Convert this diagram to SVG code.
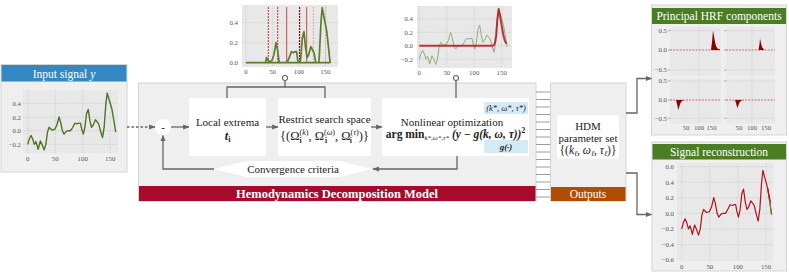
<svg xmlns="http://www.w3.org/2000/svg" width="789" height="272" viewBox="0 0 789 272">
<style>
text{font-family:"Liberation Serif","Noto Serif","DejaVu Serif","Times New Roman",serif;}
.panel{fill:#efefef;stroke:#d4d4d4;stroke-width:1}
.box{fill:#ffffff}
.ax{fill:#e8e8e8}
.grid{stroke:#c2c2c2;stroke-width:0.6;stroke-dasharray:1.5 1.2;fill:none}
.tkr{font-size:6.8px;fill:#555;text-anchor:end}
.tkm{font-size:6.8px;fill:#555;text-anchor:middle}
.con{stroke:#666;stroke-width:1.3;fill:none}
.title{fill:#ffffff;font-size:11.5px;text-anchor:middle}
.lbl{font-size:11px;fill:#222;text-anchor:middle}
.sig{fill:none;stroke:#4f7426;stroke-width:1.4;stroke-linejoin:round}
.sig1{fill:none;stroke:#5b7d2e;stroke-width:1.7;stroke-linejoin:round}
.sig2{fill:none;stroke:#8da465;stroke-width:0.9;stroke-linejoin:round}
.fit{fill:none;stroke:#b3161e;stroke-width:2;stroke-linejoin:round;stroke-opacity:0.85}
.rec{fill:none;stroke:#b3121b;stroke-width:1.2;stroke-linejoin:round}
.hatch{stroke:#9c9c9c;stroke-width:1}
.hrf{fill:#8b0000}
.zero{stroke:#c0392b;stroke-width:0.7;stroke-dasharray:2 1.2}
.tick{stroke:#777;stroke-width:0.6}
.lb{fill:#d4eaf5}
</style>
<defs>
<marker id="ah" viewBox="0 0 10 10" refX="9" refY="5" markerWidth="6.5" markerHeight="6.5" orient="auto" markerUnits="userSpaceOnUse"><path d="M0,1 L10,5 L0,9 z" fill="#666"/></marker>
<path id="sig" vector-effect="non-scaling-stroke" d="M0,20 L3,12 L6,7 L9,12 L12,20 L15,16 L19,27 L23,15 L26,20 L30,28 L33,20 L36,2 L39,-5 L44,-1 L49,-2 L53,-8 L57,-20 L60,-12 L63,0 L66,5 L70,1 L74,0 L78,0 L82,-5 L86,-11 L90,-10 L93,-11 L96,-11 L98,-3 L101,5 L104,-5 L107,-25 L110,-31 L113,-15 L116,-5 L119,-8 L123,-16 L126,-13 L129,-10 L133,2 L136,10 L139,-5 L142,-38 L144.5,-55 L147,-48 L150,-40 L153,-32 L156,-18 L160,2"/>
<clipPath id="pos"><rect x="-10" y="-100" width="200" height="100"/></clipPath>
</defs>

<!-- input signal -->
<g id="input-signal">
<rect class="panel" x="1" y="64.5" width="126" height="107.5"/>
<rect x="1.5" y="65" width="125" height="16.5" fill="#3388c2"/>
<text class="title" x="64" y="77.5">Input signal <tspan font-style="italic">y</tspan></text>
<rect class="ax" x="23" y="90" width="95" height="63"/>
<g class="grid"><line x1="23" y1="103.3" x2="118" y2="103.3"/><line x1="23" y1="117.3" x2="118" y2="117.3"/><line x1="23" y1="130.7" x2="118" y2="130.7"/><line x1="23" y1="144.3" x2="118" y2="144.3"/><line x1="27.7" y1="90" x2="27.7" y2="153"/><line x1="55.2" y1="90" x2="55.2" y2="153"/><line x1="82.7" y1="90" x2="82.7" y2="153"/><line x1="110.2" y1="90" x2="110.2" y2="153"/></g>
<text class="tkr" x="21" y="105.5">0.4</text><text class="tkr" x="21" y="119.5">0.2</text><text class="tkr" x="21" y="133">0.0</text><text class="tkr" x="21" y="146.5">−0.2</text>
<text class="tkm" x="27.7" y="161">0</text><text class="tkm" x="55.2" y="161">50</text><text class="tkm" x="82.7" y="161">100</text><text class="tkm" x="110.2" y="161">150</text>
<use href="#sig" class="sig" transform="translate(27.7,130.7) scale(0.55,0.685)"/>
</g>

<!-- main HDM panel -->
<g id="hdm-panel">
<rect class="panel" x="138.5" y="83" width="397.5" height="118"/>
<rect x="139" y="186" width="396.5" height="15" fill="#a60b2b"/>
<text x="337" y="197.8" fill="#fff" font-size="12.5" font-weight="bold" text-anchor="middle">Hemodynamics Decomposition Model</text>
</g>

<g id="minus">
<circle cx="163" cy="127" r="8" fill="#fff"/>
<text x="163" y="130.5" text-anchor="middle" font-size="11" font-weight="bold" fill="#333">-</text>
</g>

<g id="local-extrema">
<rect class="box" x="189" y="98" width="77" height="58"/>
<text class="lbl" x="227.5" y="126">Local extrema</text>
<text x="227.5" y="140" font-size="12.5" text-anchor="middle" fill="#222"><tspan font-weight="bold" font-style="italic">t</tspan><tspan font-size="8" font-weight="bold" dy="2">i</tspan></text>
</g>

<g id="restrict-search">
<rect class="box" x="278" y="98" width="93" height="58"/>
<text class="lbl" x="324.5" y="123">Restrict search space</text>
<text x="324.5" y="139.5" font-size="12.5" text-anchor="middle" fill="#222">{(Ω<tspan font-size="8" dy="-5">(<tspan font-style="italic">k</tspan>)</tspan><tspan font-size="7.5" font-weight="bold" dx="-8.9" dy="8.5">i</tspan><tspan dx="6.8" dy="-3.5">, Ω</tspan><tspan font-size="8" dy="-5">(<tspan font-style="italic">ω</tspan>)</tspan><tspan font-size="7.5" font-weight="bold" dx="-10.1" dy="8.5">i</tspan><tspan dx="8" dy="-3.5">, Ω</tspan><tspan font-size="8" dy="-5">(<tspan font-style="italic">τ</tspan>)</tspan><tspan font-size="7.5" font-weight="bold" dx="-8.9" dy="8.5">i</tspan><tspan dx="6.8" dy="-3.5">)}</tspan></text>
</g>

<g id="nonlinear-optimization">
<rect class="box" x="382" y="98" width="147" height="58"/>
<rect class="lb" x="484" y="102" width="44" height="12"/>
<text x="506" y="111" font-size="8.5" font-style="italic" text-anchor="middle" fill="#222">(k*, ω*, τ*)</text>
<rect class="lb" x="484" y="140" width="44" height="13"/>
<text x="506" y="150" font-size="9" font-style="italic" font-weight="bold" text-anchor="middle" fill="#222">g(·)</text>
<text class="lbl" x="452" y="125.5">Nonlinear optimization</text>
<text x="455.5" y="137.5" font-size="11.5" text-anchor="middle" font-weight="bold" fill="#222">arg min<tspan font-size="7" dy="2.5" font-style="italic" font-weight="normal">k*,ω*,τ*</tspan><tspan dy="-2.5" font-style="italic"> (y − g(k, ω, τ))</tspan><tspan font-size="7.5" dy="-4.5">2</tspan></text>
</g>

<g id="convergence-criteria">
<polygon points="214,169 246,161 340,161 372,169 340,177 246,177" fill="#fff"/>
<text class="lbl" x="293" y="173">Convergence criteria</text>
</g>

<!-- plot of local extrema -->
<g id="plot-extrema">
<rect class="ax" x="242" y="5" width="96" height="62"/>
<g class="grid"><line x1="242" y1="22.7" x2="338" y2="22.7"/><line x1="242" y1="42.7" x2="338" y2="42.7"/><line x1="242" y1="62.7" x2="338" y2="62.7"/><line x1="246" y1="5" x2="246" y2="67"/><line x1="272.6" y1="5" x2="272.6" y2="67"/><line x1="298.9" y1="5" x2="298.9" y2="67"/><line x1="325.3" y1="5" x2="325.3" y2="67"/></g>
<text class="tkr" x="238" y="25">0.4</text><text class="tkr" x="238" y="45">0.2</text><text class="tkr" x="238" y="65">0.0</text>
<text class="tkm" x="246" y="74">0</text><text class="tkm" x="272.6" y="74">50</text><text class="tkm" x="298.9" y="74">100</text><text class="tkm" x="325.3" y="74">150</text>
<g stroke-width="0.9" fill="none">
<line x1="268.3" y1="7" x2="268.3" y2="63" stroke="#b22222" stroke-dasharray="2 1"/>
<line x1="277.7" y1="7" x2="277.7" y2="63" stroke="#b22222" stroke-dasharray="2 1"/>
<line x1="286.7" y1="7" x2="286.7" y2="63" stroke="#c0392b"/>
<line x1="299.6" y1="7" x2="299.6" y2="63" stroke="#a00000" stroke-width="1.2" stroke-dasharray="2 1"/>
<line x1="306.7" y1="7" x2="306.7" y2="63" stroke="#c0392b"/>
<line x1="313.3" y1="7" x2="313.3" y2="63" stroke="#e3a0a0" stroke-dasharray="2 1"/>
<line x1="325.6" y1="7" x2="325.6" y2="63" stroke="#e3a0a0" stroke-dasharray="2 1"/>
</g>
<g transform="translate(246,62.7) scale(0.527,1)">
<g clip-path="url(#pos)"><use href="#sig" class="sig1"/></g>
<path class="sig1" vector-effect="non-scaling-stroke" d="M0,0 H160"/>
</g>
</g>

<!-- plot of fitted component -->
<g id="plot-fit">
<rect class="ax" x="417" y="6" width="95" height="62"/>
<g class="grid"><line x1="417" y1="19" x2="512" y2="19"/><line x1="417" y1="32.3" x2="512" y2="32.3"/><line x1="417" y1="45.7" x2="512" y2="45.7"/><line x1="417" y1="59.3" x2="512" y2="59.3"/><line x1="419.3" y1="6" x2="419.3" y2="68"/><line x1="446.8" y1="6" x2="446.8" y2="68"/><line x1="474.2" y1="6" x2="474.2" y2="68"/><line x1="501.7" y1="6" x2="501.7" y2="68"/></g>
<text class="tkr" x="413" y="21.2">0.4</text><text class="tkr" x="413" y="34.5">0.2</text><text class="tkr" x="413" y="48">0.0</text><text class="tkr" x="413" y="61.5">−0.2</text>
<text class="tkm" x="419.3" y="74.5">0</text><text class="tkm" x="446.8" y="74.5">50</text><text class="tkm" x="474.2" y="74.5">100</text><text class="tkm" x="501.7" y="74.5">150</text>
<g transform="translate(419.3,45.7) scale(0.549,0.667)">
<use href="#sig" class="sig2"/>
<path class="fit" vector-effect="non-scaling-stroke" d="M0,0 L134,0 L136,-1 L138,-5 L140,-15 L142,-38 L144.5,-55 L147,-45 L150,-30 L153,-16 L156,-7 L159,-3"/>
</g>
</g>

<!-- outputs -->
<g id="outputs">
<rect class="panel" x="550.5" y="83" width="75.5" height="118"/>
<rect x="551" y="187" width="74.5" height="14" fill="#b04d00"/>
<text class="title" x="588" y="198">Outputs</text>
<rect class="box" x="557" y="115" width="62" height="44"/>
<text class="lbl" x="588" y="130">HDM</text>
<text class="lbl" x="588" y="141.5">parameter set</text>
<text x="588" y="154" font-size="11.5" text-anchor="middle" fill="#222">{(<tspan font-style="italic">k</tspan><tspan font-size="7.5" dy="2" font-style="italic">ℓ</tspan><tspan dy="-2">, </tspan><tspan font-style="italic">ω</tspan><tspan font-size="7.5" dy="2" font-style="italic">ℓ</tspan><tspan dy="-2">, </tspan><tspan font-style="italic">τ</tspan><tspan font-size="7.5" dy="2" font-style="italic">ℓ</tspan><tspan dy="-2">)}</tspan></text>
</g>

<!-- principal HRF components -->
<g id="principal-hrf">
<rect class="panel" x="651.5" y="5" width="135" height="130"/>
<rect x="652" y="8" width="134" height="16" fill="#4b7d23"/>
<text class="title" x="719" y="20">Principal HRF components</text>
<rect class="ax" x="670" y="27" width="51" height="49"/>
<rect class="ax" x="726" y="27" width="49" height="49"/>
<rect class="ax" x="670" y="78.5" width="51" height="45"/>
<rect class="ax" x="726" y="78.5" width="49" height="45"/>
<g class="grid">
<line x1="670" y1="30.7" x2="721" y2="30.7"/><line x1="670" y1="70" x2="721" y2="70"/><line x1="699" y1="27" x2="699" y2="76"/>
<line x1="726" y1="30.7" x2="775" y2="30.7"/><line x1="726" y1="70" x2="775" y2="70"/><line x1="752" y1="27" x2="752" y2="76"/>
<line x1="670" y1="81" x2="721" y2="81"/><line x1="670" y1="118.3" x2="721" y2="118.3"/><line x1="699" y1="78.5" x2="699" y2="123.5"/>
<line x1="726" y1="81" x2="775" y2="81"/><line x1="726" y1="118.3" x2="775" y2="118.3"/><line x1="752" y1="78.5" x2="752" y2="123.5"/>
</g>
<g class="zero"><line x1="670" y1="50" x2="721" y2="50"/><line x1="726" y1="50" x2="775" y2="50"/><line x1="670" y1="100" x2="721" y2="100"/><line x1="726" y1="100" x2="775" y2="100"/></g>
<g class="tick"><line x1="668" y1="30.7" x2="670" y2="30.7"/><line x1="668" y1="50" x2="670" y2="50"/><line x1="668" y1="70" x2="670" y2="70"/><line x1="724" y1="30.7" x2="726" y2="30.7"/><line x1="724" y1="50" x2="726" y2="50"/><line x1="724" y1="70" x2="726" y2="70"/><line x1="668" y1="81" x2="670" y2="81"/><line x1="668" y1="100" x2="670" y2="100"/><line x1="668" y1="118.3" x2="670" y2="118.3"/><line x1="724" y1="81" x2="726" y2="81"/><line x1="724" y1="100" x2="726" y2="100"/><line x1="724" y1="118.3" x2="726" y2="118.3"/></g>
<text class="tkr" x="667" y="33">0.5</text><text class="tkr" x="667" y="52.3">0.0</text><text class="tkr" x="667" y="72.3">−0.5</text>
<text class="tkr" x="667" y="83.3">0.5</text><text class="tkr" x="667" y="102.3">0.0</text><text class="tkr" x="667" y="120.6">−0.5</text>
<text class="tkm" x="686" y="129.5">50</text><text class="tkm" x="699" y="129.5">100</text><text class="tkm" x="711.5" y="129.5">150</text>
<text class="tkm" x="739" y="129.5">50</text><text class="tkm" x="752" y="129.5">100</text><text class="tkm" x="766" y="129.5">150</text>
<polygon class="hrf" points="711,50 712,42 713,30.5 714,36 715,42 716,46 717.5,48.5 720,49.6 720,50"/>
<polygon class="hrf" points="758.5,50 759.5,44 760,38.5 761,43 762,47 764,49.5 764,50"/>
<polygon class="hrf" points="676,100 677,104 678.3,110 679.5,106 680.5,103 682,101 684,100"/>
<polygon class="hrf" points="735,100 736,103 737.3,108.3 738.5,105 739.5,102.5 741,100.8 743,100"/>
</g>

<!-- signal reconstruction -->
<g id="signal-reconstruction">
<rect class="panel" x="652" y="142" width="134.5" height="129"/>
<rect x="652.5" y="144" width="133.5" height="15.5" fill="#4b7d23"/>
<text class="title" x="719" y="156">Signal reconstruction</text>
<rect class="ax" x="677" y="163" width="96" height="98"/>
<g class="grid">
<line x1="677" y1="166.7" x2="773" y2="166.7"/><line x1="677" y1="182.3" x2="773" y2="182.3"/><line x1="677" y1="197.7" x2="773" y2="197.7"/><line x1="677" y1="213.3" x2="773" y2="213.3"/><line x1="677" y1="229" x2="773" y2="229"/><line x1="677" y1="244.6" x2="773" y2="244.6"/>
<line x1="681.7" y1="163" x2="681.7" y2="261"/><line x1="709.8" y1="163" x2="709.8" y2="261"/><line x1="737.9" y1="163" x2="737.9" y2="261"/><line x1="766" y1="163" x2="766" y2="261"/>
</g>
<text class="tkr" x="674" y="169">0.6</text><text class="tkr" x="674" y="184.5">0.4</text><text class="tkr" x="674" y="200">0.2</text><text class="tkr" x="674" y="215.5">0.0</text><text class="tkr" x="674" y="231.2">−0.2</text><text class="tkr" x="674" y="246.8">−0.4</text><text class="tkr" x="674" y="262.3">−0.6</text>
<text class="tkm" x="681.7" y="268.5">0</text><text class="tkm" x="709.8" y="268.5">50</text><text class="tkm" x="737.9" y="268.5">100</text><text class="tkm" x="766" y="268.5">150</text>
<g transform="translate(681.7,213.3) scale(0.562,0.78)">
<use href="#sig" class="rec"/>
<path vector-effect="non-scaling-stroke" fill="none" stroke="#6b8c3a" stroke-width="1.1" d="M153,-32 L156,-18 L160,2"/>
<path vector-effect="non-scaling-stroke" class="rec" d="M153,-32 L155.5,-22 L158,-14"/>
</g>
</g>

<!-- connectors -->
<g id="connectors">
<line class="con" x1="127" y1="127" x2="155" y2="127" stroke-dasharray="2.5 2" marker-end="url(#ah)"/>
<line class="con" x1="171" y1="127" x2="189" y2="127" marker-end="url(#ah)"/>
<line class="con" x1="266" y1="127" x2="278" y2="127" marker-end="url(#ah)"/>
<line class="con" x1="371" y1="127" x2="382" y2="127" marker-end="url(#ah)"/>
<path class="con" d="M457,156 V169 H373" marker-end="url(#ah)"/>
<path class="con" d="M214,169 H163 V135.5" marker-end="url(#ah)"/>
<path class="con" d="M227,98 V87 H325 V98"/>
<path class="con" d="M285,80.5 V87"/>
<path class="con" d="M456,80.5 V98"/>
<circle cx="285" cy="78" r="2.5" fill="#fff" stroke="#666" stroke-width="1.1"/>
<circle cx="456" cy="78" r="2.5" fill="#fff" stroke="#666" stroke-width="1.1"/>
<g class="hatch">
<line x1="536" y1="92" x2="550" y2="92"/><line x1="536" y1="99.5" x2="550" y2="99.5"/><line x1="536" y1="107" x2="550" y2="107"/><line x1="536" y1="114.5" x2="550" y2="114.5"/><line x1="536" y1="122" x2="550" y2="122"/><line x1="536" y1="129.5" x2="550" y2="129.5"/><line x1="536" y1="137" x2="550" y2="137"/><line x1="536" y1="144.5" x2="550" y2="144.5"/><line x1="536" y1="152" x2="550" y2="152"/><line x1="536" y1="159.5" x2="550" y2="159.5"/><line x1="536" y1="167" x2="550" y2="167"/><line x1="536" y1="174.5" x2="550" y2="174.5"/><line x1="536" y1="182" x2="550" y2="182"/><line x1="536" y1="189.5" x2="550" y2="189.5"/><line x1="536" y1="197" x2="550" y2="197"/>
</g>
<path class="con" d="M626,113 H637 V78.5 H651.5" marker-end="url(#ah)"/>
<path class="con" d="M626,173 H637 V214.5 H651.5" marker-end="url(#ah)"/>
</g>
</svg>
